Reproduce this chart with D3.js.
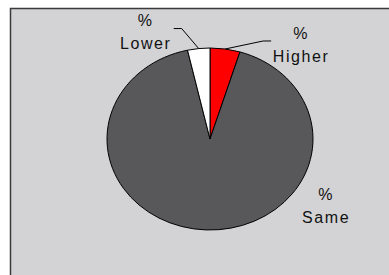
<!DOCTYPE html>
<html>
<head>
<meta charset="utf-8">
<script src="https://cdn.jsdelivr.net/npm/d3@7"></script>
<style>
  html, body { margin: 0; padding: 0; background: #fff; }
  svg { display: block; }
  text { font-family: "Liberation Sans", Arial, sans-serif; font-size: 16px; fill: #111; letter-spacing: 1.6px; }
</style>
</head>
<body>
<div id="vis"></div>
<script>
// slice data (share of responses, %)
const categories = ["Higher", "Same", "Lower"];
const values = [4.7, 91.8, 3.5];
const colors = ["#ff0000", "#58585a", "#ffffff"];

const width = 389, height = 275;

const svg = d3.select("#vis").append("svg")
  .attr("width", width)
  .attr("height", height);

// plot area frame
svg.append("rect")
  .attr("x", 10.5).attr("y", 8.5)
  .attr("width", 400).attr("height", 300)
  .attr("fill", "#d3d3d5")
  .attr("stroke", "#3a3a3a")
  .attr("stroke-width", 1.5);

const cx = 210, cy = 139, rx = 103, ry = 91;

const pie = d3.pie().sort(null).value(d => d.value);
const arcs = pie(categories.map((c, i) => ({ name: c, value: values[i], color: colors[i] })));
const arc = d3.arc().innerRadius(0).outerRadius(rx);

const g = svg.append("g")
  .attr("transform", `translate(${cx},${cy}) scale(1,${ry / rx})`);

g.selectAll("path")
  .data(arcs)
  .join("path")
  .attr("d", arc)
  .attr("fill", d => d.data.color)
  .attr("stroke", "#000")
  .attr("stroke-width", 1)
  .attr("vector-effect", "non-scaling-stroke");

// point on the ellipse edge at the slice's middle angle
function edge(d) {
  const a = (d.startAngle + d.endAngle) / 2;
  return [cx + rx * Math.sin(a), cy - ry * Math.cos(a)];
}

// label placement relative to slice edge: elbow, elbow end, name baseline
const labelLayout = {
  Higher: { leader: true, elbow: [38, -8], end: [46, -8], text: [76, 13] },
  Lower:  { leader: true, elbow: [-17, -20], end: [-25, -20], text: [-53, 0] },
  Same:   { leader: false, text: [120, -7] }
};

arcs.forEach(d => {
  const p = edge(d);
  const L = labelLayout[d.data.name];
  if (L.leader) {
    svg.append("polyline")
      .attr("points", [p, [p[0] + L.elbow[0], p[1] + L.elbow[1]], [p[0] + L.end[0], p[1] + L.end[1]]].map(q => q.join(",")).join(" "))
      .attr("fill", "none")
      .attr("stroke", "#000")
      .attr("stroke-width", 1);
  }
  const tx = p[0] + L.text[0], ty = p[1] + L.text[1];
  svg.append("text").attr("x", tx).attr("y", ty - 23).attr("text-anchor", "middle").text("%");
  svg.append("text").attr("x", tx).attr("y", ty).attr("text-anchor", "middle").text(d.data.name);
});
</script>
</body>
</html>
